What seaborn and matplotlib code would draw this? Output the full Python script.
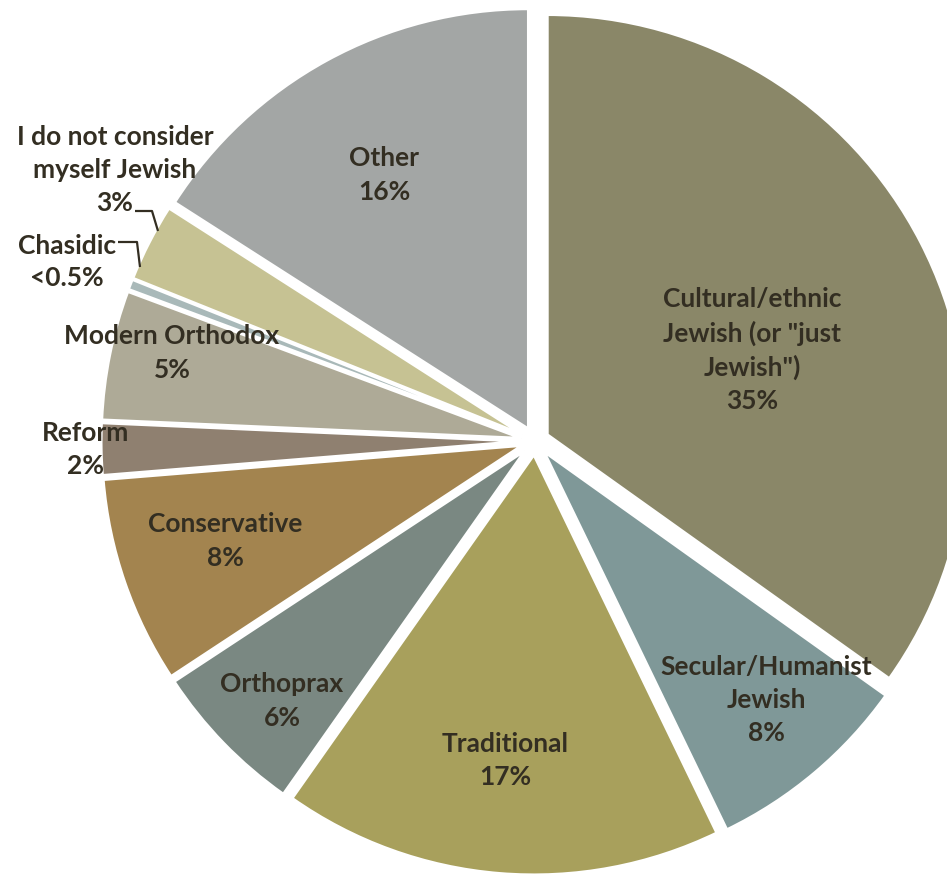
import matplotlib
matplotlib.use("Agg")
import matplotlib.pyplot as plt
import seaborn as sns

sns.set_theme(style="white")
plt.rcParams["font.family"] = ["Lato", "DejaVu Sans"]

# Denominational self-identification shares (%)
categories = [
    "Cultural/ethnic\nJewish (or \"just\nJewish\")",
    "Secular/Humanist\nJewish",
    "Traditional",
    "Orthoprax",
    "Conservative",
    "Reform",
    "Modern Orthodox",
    "Chasidic",
    "I do not consider\nmyself Jewish",
    "Other",
]
values = [35, 8, 17, 6, 8, 2, 5, 0.4, 3, 16]
value_labels = ["35%", "8%", "17%", "6%", "8%", "2%", "5%", "<0.5%", "3%", "16%"]
colors = [
    "#8a8768", "#7f9898", "#a8a05c", "#7a8882", "#a3844f",
    "#8f8070", "#aeaa97", "#a9b9b9", "#c6c293", "#a3a6a5",
]

W, H = 947, 878
CX, CY, R = 535, 442, 420  # pie centre and radius in pixels


def to_data(px, py):
    return (px - CX) / R, (CY - py) / R


fig = plt.figure(figsize=(W / 100, H / 100), dpi=100)
ax = fig.add_axes([0, 0, 1, 1])
ax.pie(
    values,
    colors=colors,
    startangle=90,
    counterclock=False,
    explode=[0.033] * len(values),
    radius=1.0,
    wedgeprops=dict(edgecolor="white", linewidth=2),
)
x0, y0 = to_data(0, H)
x1, y1 = to_data(W, 0)
ax.set_xlim(x0, x1)
ax.set_ylim(y0, y1)
ax.set_aspect("auto")
ax.axis("off")

# label centres in pixel space
label_pos = [
    (752, 350), (766, 700), (505, 761), (282, 701), (225, 541),
    (86, 450), (172, 353), (67, 262), (115, 170), (384, 175),
]
text_color = "#332e22"
for name, val, (px, py) in zip(categories, value_labels, label_pos):
    x, y = to_data(px, py)
    ax.text(x, y, f"{name}\n{val}", ha="center", va="center",
            fontsize=19, fontweight="bold", color=text_color,
            linespacing=1.45)

# leader lines for the two thin slices
for pts in ([(118, 243), (137, 243), (140, 268)],
            [(135, 212), (152, 212), (158, 232)]):
    xs, ys = zip(*[to_data(p, q) for p, q in pts])
    ax.plot(xs, ys, color=text_color, lw=1.6, solid_capstyle="butt")

fig.savefig("out.png", dpi=100)
